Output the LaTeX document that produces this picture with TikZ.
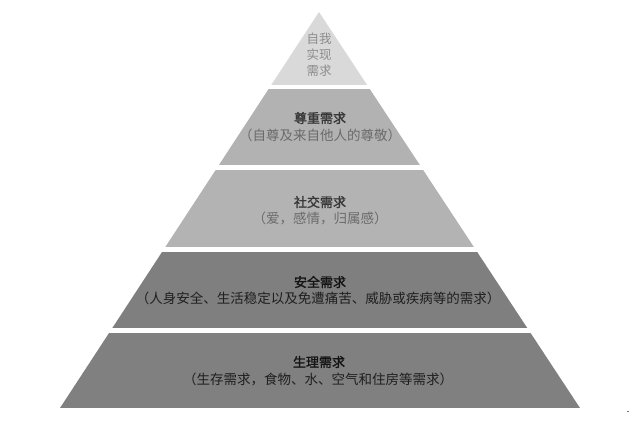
\documentclass[tikz,border=0pt]{standalone}
\usepackage{fontspec}
\newfontfamily\cjk{Noto Sans CJK SC}
\newfontfamily\cjkb[FakeBold=1.6]{Noto Sans CJK SC}
\usetikzlibrary{calc}
\definecolor{tierA}{HTML}{D9D9D9}
\definecolor{tierB}{HTML}{B2B2B2}
\definecolor{tierC}{HTML}{B3B3B3}
\definecolor{tierD}{HTML}{7F7F7F}
\definecolor{tierE}{HTML}{808080}
\tikzset{
  ttl/.style={font=\cjkb\fontsize{13}{15}\selectfont, inner sep=0pt, anchor=center},
  sub/.style={font=\cjk\fontsize{13.5}{15}\selectfont, inner sep=0pt, anchor=center},
  topt/.style={font=\cjk\fontsize{12.5}{16}\selectfont, inner sep=0pt, anchor=center, text=black!45, align=center},
}
\begin{document}
\begin{tikzpicture}[x=1pt,y=-1pt]
\useasboundingbox (0,0) rectangle (630,426);
\fill[white] (0,0) rectangle (630,426);
\coordinate (A) at (319,12);
\coordinate (L) at (60,408);
\coordinate (R) at (580,408);
\begin{scope}
\clip (A) -- (L) -- (R) -- cycle;
\fill[tierA] (0,0) rectangle (630,85);
\fill[tierB] (0,89) rectangle (630,165);
\fill[tierC] (0,170) rectangle (630,247);
\fill[tierD] (0,252) rectangle (630,328);
\fill[tierE] (0,333) rectangle (630,408);
\end{scope}
% top tier text
\node[topt] (t1) at (319,55) {自我\\实现\\需求};
% esteem
\node[ttl, text=black!78] (t2) at (320,118) {尊重需求};
\node[sub, text=black!58] (s2) at (320,135) {（自尊及来自他人的尊敬）};
% social
\node[ttl, text=black!78] (t3) at (320,202) {社交需求};
\node[sub, text=black!58] (s3) at (320,218) {（爱，感情，归属感）};
% safety
\node[ttl, text=black!92] (t4) at (320,282) {安全需求};
\node[sub, text=black!88] (s4) at (318,298) {（人身安全、生活稳定以及免遭痛苦、威胁或疾病等的需求）};
% physiological
\node[ttl, text=black!92] (t5) at (319,362) {生理需求};
\node[sub, text=black!88] (s5) at (318,379) {（生存需求，食物、水、空气和住房等需求）};
% small mark
\fill[black!55] (626.5,410.5) rectangle (629,411.5);
\end{tikzpicture}
\end{document}
